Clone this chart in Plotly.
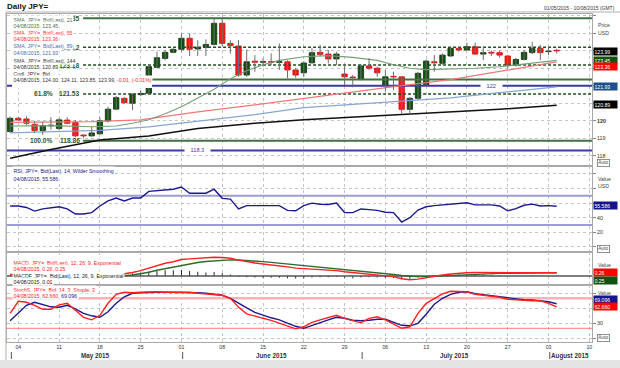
import numpy as np
import pandas as pd
import plotly.graph_objects as go
from plotly.subplots import make_subplots

# ---------------- data ----------------
dates = pd.bdate_range("2015-05-01", "2015-08-04")  # daily trading sessions

opens = [119.38, 120.14, 120.10, 119.79, 119.43, 119.71, 119.55, 120.04, 119.89, 119.18,
         119.13, 119.25, 120.00, 120.66, 121.28, 121.00, 121.49, 121.57, 123.05, 123.56,
         123.91, 124.08, 124.71, 124.10, 124.19, 124.36, 125.57, 124.42, 124.27, 122.61,
         123.40, 123.34, 123.38, 123.33, 123.37, 122.90, 122.74, 123.31, 123.91, 123.81,
         123.53, 122.67, 122.50, 122.38, 123.13, 123.00, 122.04, 122.53, 122.51, 120.65,
         121.28, 122.05, 123.37, 123.28, 123.70, 124.14, 124.04, 124.23, 123.81, 123.91,
         123.89, 123.70, 123.18, 123.50, 123.89, 124.14, 123.95, 124.00]
highs = [120.23, 120.20, 120.25, 119.98, 119.94, 120.20, 120.14, 120.20, 120.04, 119.22,
         119.65, 120.20, 120.80, 121.41, 121.34, 121.55, 121.75, 123.15, 123.94, 124.05,
         124.15, 124.99, 124.99, 124.60, 124.65, 125.85, 125.80, 124.60, 124.61, 124.08,
         123.75, 123.57, 123.85, 124.42, 123.45, 123.00, 123.40, 124.14, 124.33, 124.04,
         123.94, 123.18, 122.61, 123.20, 123.57, 123.09, 122.90, 122.80, 122.55, 121.35,
         122.80, 123.50, 123.75, 123.85, 124.20, 124.20, 124.46, 124.46, 124.23, 124.00,
         124.00, 123.75, 123.60, 124.05, 124.51, 124.33, 124.23, 124.11]
lows = [119.31, 119.98, 119.75, 119.31, 119.18, 119.49, 119.49, 119.80, 119.05, 119.00,
        119.08, 119.20, 119.90, 120.60, 120.95, 120.60, 121.40, 121.50, 123.00, 123.45,
        123.85, 123.95, 123.70, 123.70, 123.70, 124.30, 124.27, 123.83, 122.51, 122.50,
        122.80, 123.09, 123.18, 122.90, 122.42, 122.45, 122.50, 123.25, 123.70, 123.28,
        123.18, 122.04, 121.91, 122.30, 122.90, 122.51, 121.66, 121.75, 120.38, 120.38,
        121.20, 121.95, 122.80, 123.20, 123.65, 123.95, 124.00, 123.75, 123.47, 123.70,
        123.60, 122.99, 123.10, 123.45, 123.80, 123.47, 123.75, 123.85]
closes = [120.14, 120.04, 119.85, 119.43, 119.71, 119.75, 120.05, 119.85, 119.13, 119.13,
          119.30, 120.00, 120.66, 121.32, 121.03, 121.52, 121.56, 123.09, 123.60, 123.91,
          124.08, 124.71, 124.08, 124.19, 124.36, 125.57, 124.42, 124.29, 122.61, 123.37,
          123.34, 123.38, 123.33, 123.38, 122.90, 122.61, 123.30, 123.89, 123.79, 123.53,
          123.81, 122.51, 122.46, 123.13, 123.00, 122.74, 122.51, 122.50, 120.65, 121.28,
          122.71, 123.41, 123.31, 123.75, 124.14, 124.04, 124.23, 123.81, 123.89, 123.86,
          123.75, 123.18, 123.50, 123.91, 124.14, 123.89, 123.98, 123.99]

sma21_dates = ["2015-05-01", "2015-05-08", "2015-05-15", "2015-05-20", "2015-05-22", "2015-05-26",
               "2015-05-28", "2015-06-01", "2015-06-03", "2015-06-05", "2015-06-09", "2015-06-11",
               "2015-06-15", "2015-06-17", "2015-06-22", "2015-06-25", "2015-06-30", "2015-07-03",
               "2015-07-07", "2015-07-09", "2015-07-13", "2015-07-16", "2015-07-21", "2015-07-24",
               "2015-07-29", "2015-07-31", "2015-08-04"]
sma21_vals = [119.70, 119.72, 119.65, 119.70, 119.85, 120.05, 120.40, 120.80, 121.30, 121.80,
              122.40, 122.85, 123.20, 123.45, 123.66, 123.72, 123.62, 123.45, 123.20, 123.00,
              122.92, 122.95, 123.00, 123.08, 123.25, 123.35, 123.45]
sma55_dates = ["2015-05-01", "2015-05-15", "2015-05-25", "2015-06-03", "2015-06-12", "2015-06-22",
               "2015-06-30", "2015-07-08", "2015-07-16", "2015-07-24", "2015-08-04"]
sma55_vals = [119.90, 119.95, 120.05, 120.50, 120.90, 121.28, 121.65, 122.00, 122.35, 122.80, 123.36]
sma89_dates = ["2015-05-01", "2015-05-18", "2015-05-26", "2015-06-12", "2015-06-22", "2015-07-08",
               "2015-07-16", "2015-07-24", "2015-08-04"]
sma89_vals = [119.30, 119.45, 119.65, 120.35, 120.75, 121.10, 121.30, 121.60, 121.93]
sma144_dates = ["2015-05-01", "2015-05-08", "2015-05-18", "2015-05-26", "2015-06-03", "2015-06-12",
                "2015-06-22", "2015-06-30", "2015-07-08", "2015-07-16", "2015-07-24", "2015-08-04"]
sma144_vals = [117.85, 118.35, 118.90, 119.12, 119.55, 119.85, 120.05, 120.20, 120.35, 120.50,
               120.65, 120.89]

rsi = [56, 56, 54, 49, 52, 53, 55, 52, 45, 45, 47, 56, 63, 67, 63, 67, 67, 76, 77, 78,
       79, 82, 73.5, 73.5, 73.5, 79, 66.5, 65.5, 52, 56.5, 56.5, 56.5, 56, 56.5, 50, 49.5,
       56.5, 60, 58.5, 58, 60, 47, 47, 52, 51, 50, 47.5, 47, 34, 40, 50.5, 55, 56.5, 57.5,
       59, 59, 60.5, 57.5, 57.5, 57.5, 56, 49.5, 52.5, 57, 58.5, 56, 56.5, 55.586]

macd = [0.10, 0.11, 0.09, 0.04, 0.02, 0.01, 0.03, 0.01, -0.07, -0.13, -0.16, -0.12, -0.03, 0.09,
        0.15, 0.28, 0.42, 0.62, 0.85, 1.00, 1.12, 1.30, 1.35, 1.40, 1.43, 1.48, 1.46, 1.40,
        1.25, 1.12, 1.02, 0.95, 0.88, 0.82, 0.72, 0.62, 0.58, 0.57, 0.54, 0.48, 0.42, 0.33,
        0.26, 0.22, 0.17, 0.10, 0.02, -0.05, -0.22, -0.30, -0.25, -0.12, 0.00, 0.08, 0.16,
        0.22, 0.26, 0.27, 0.27, 0.27, 0.26, 0.23, 0.22, 0.23, 0.25, 0.26, 0.26, 0.26]
macd_signal = [0.12, 0.12, 0.11, 0.10, 0.09, 0.07, 0.06, 0.05, 0.03, 0.00, -0.03, -0.05, -0.04,
               -0.01, 0.02, 0.08, 0.18, 0.30, 0.45, 0.58, 0.70, 0.84, 0.96, 1.06, 1.14, 1.20,
               1.25, 1.27, 1.26, 1.23, 1.18, 1.13, 1.07, 1.01, 0.95, 0.88, 0.80, 0.74, 0.68,
               0.62, 0.56, 0.50, 0.44, 0.38, 0.32, 0.26, 0.20, 0.12, 0.04, -0.02, -0.05, -0.05,
               -0.02, 0.02, 0.06, 0.10, 0.13, 0.16, 0.18, 0.20, 0.21, 0.21, 0.21, 0.22, 0.23,
               0.24, 0.25, 0.25]
macd_hist = [0.02, 0.03, 0.00, -0.04, -0.05, -0.04, -0.02, -0.02, -0.06, -0.08, -0.07,
             -0.02, 0.05, 0.12, 0.15, 0.20, 0.25, 0.35, 0.42, 0.45, 0.45, 0.48, 0.40, 0.33,
             0.28, 0.32, 0.22, 0.12, -0.08, -0.10, -0.12, -0.13, -0.14, -0.14, -0.18, -0.20,
             -0.17, -0.12, -0.10, -0.10, -0.08, -0.14, -0.18, -0.12, -0.10, -0.12, -0.16,
             -0.15, -0.25, -0.22, -0.12, 0.00, 0.05, 0.08, 0.12, 0.13, 0.14, 0.12, 0.10, 0.08,
             0.06, 0.02, 0.00, 0.01, 0.03, 0.02, 0.02, 0.01]

stoch_k = [50, 74, 72, 66, 58, 58, 67, 70, 56, 42, 37, 46, 70, 88, 92, 91, 92, 93, 93, 92,
           92, 92, 92, 90, 89, 88, 86, 80, 62, 49, 44, 40, 36, 30, 24, 19, 23, 32, 37, 41,
           46, 40, 35, 31, 40, 43, 37, 28, 20, 23, 50, 70, 80, 89, 94, 94, 93, 88, 86, 84,
           82, 78, 77, 75, 75, 75, 70, 62.66]
stoch_d = [35, 50, 66, 72, 68, 63, 62, 66, 59, 50, 45, 42, 53, 70, 83, 90, 91, 92, 92, 92,
           92, 92, 91, 91, 90, 88, 86, 80, 70, 61, 52, 46, 41, 37, 30, 24, 20, 26, 32, 37,
           42, 40, 36, 35, 36, 38, 38, 32, 26, 25, 30, 48, 68, 80, 88, 92, 93, 89, 87, 85,
           83, 80, 78, 77, 76.6, 75, 73, 69.096]

fib_levels = [125.85, 124.2, 123.18, 122.35, 121.53, 118.86]
fib_pcts = ["0.0%", "23.6%", "38.2%", "50.0%", "61.8%", "100.0%"]
fib_dashed = [False, True, True, False, True, False]
fib_anchor = "2015-05-14"
trend_levels = [122.0, 118.3]
trend_label_dates = ["2015-07-23", "2015-06-03"]

week_ticks = ["2015-05-04", "2015-05-11", "2015-05-18", "2015-05-25", "2015-06-01", "2015-06-08",
              "2015-06-15", "2015-06-22", "2015-06-29", "2015-07-06", "2015-07-13", "2015-07-20",
              "2015-07-27", "2015-08-03", "2015-08-10"]
month_starts = ["2015-05-01", "2015-06-01", "2015-07-01", "2015-08-03"]
month_names = ["May 2015", "June 2015", "July 2015", "August 2015"]

assert len(dates) == len(opens) == len(highs) == len(lows) == len(closes) == len(rsi)
assert len(dates) == len(macd) == len(macd_signal) == len(macd_hist) == len(stoch_k) == len(stoch_d)

# ---------------- helpers ----------------
START = dates[0].strftime("%Y-%m-%d")


def pos(d):
    return int(np.busday_count(START, d))


idx = list(range(len(dates)))
XR = [-0.385, 71.33]
FONT = "Liberation Sans, Arial, sans-serif"
W, H = 620, 368
ML, MR, MT, MB = 7, 28, 14, 26
PW, PH = W - ML - MR, H - MT - MB


def pxx(px):
    return (px - ML) / PW


def pxy(py):
    return (H - MB - py) / PH


fig = make_subplots(rows=4, cols=1, shared_xaxes=True, vertical_spacing=0,
                    row_heights=[152, 86, 33, 57])

# ---- main price panel ----
xa = pos(fib_anchor) - 0.06
for lvl, dashed in zip(fib_levels, fib_dashed):
    fig.add_trace(go.Scatter(x=[xa, XR[1] + 1], y=[lvl, lvl], mode="lines",
                             line=dict(color="#1f4f1f" if dashed else "#3f703f",
                                       width=1.5 if dashed else 2,
                                       dash="3px,2px" if dashed else "solid"),
                             hoverinfo="skip"), row=1, col=1)
for lvl in trend_levels:
    fig.add_trace(go.Scatter(x=[XR[0] - 1, XR[1] + 1], y=[lvl, lvl], mode="lines",
                             line=dict(color="#3a3aa0", width=2), hoverinfo="skip"), row=1, col=1)

for dts, vals, col, wd in [(sma144_dates, sma144_vals, "#111111", 1.5),
                           (sma89_dates, sma89_vals, "#86a6d2", 1.2),
                           (sma55_dates, sma55_vals, "#f07878", 1.2),
                           (sma21_dates, sma21_vals, "#78a078", 1.1)]:
    fig.add_trace(go.Scatter(x=[pos(d) for d in dts], y=vals, mode="lines",
                             line=dict(color=col, width=wd), hoverinfo="skip"), row=1, col=1)

wx, wy = [], []
for i, (h, l) in enumerate(zip(highs, lows)):
    wx += [i, i, None]
    wy += [l, h, None]
fig.add_trace(go.Scatter(x=wx, y=wy, mode="lines", line=dict(color="#6e6e6e", width=1),
                         hoverinfo="skip"), row=1, col=1)

base = [min(o, c) for o, c in zip(opens, closes)]
height = [max(abs(c - o), 0.035) for o, c in zip(opens, closes)]
up = [c >= o for o, c in zip(opens, closes)]
fig.add_trace(go.Bar(x=idx, y=height, base=base, width=0.66,
                     marker=dict(color=["#145214" if u else "#ff1a1a" for u in up],
                                 line=dict(color=["#0b2e0b" if u else "#e00000" for u in up],
                                           width=0.8)),
                     hoverinfo="skip"), row=1, col=1)

# ---- RSI panel ----
for lvl in [70, 30]:
    fig.add_trace(go.Scatter(x=[XR[0] - 1, XR[1] + 1], y=[lvl, lvl], mode="lines",
                             line=dict(color="#9c9cd2", width=2), hoverinfo="skip"), row=2, col=1)
fig.add_trace(go.Scatter(x=idx, y=rsi, mode="lines", line=dict(color="#1a1a8c", width=1.4),
                         hoverinfo="skip"), row=2, col=1)

# ---- MACD panel ----
fig.add_trace(go.Scatter(x=[XR[0] - 1, XR[1] + 1], y=[0, 0], mode="lines",
                         line=dict(color="#555555", width=1.5), hoverinfo="skip"), row=3, col=1)
fig.add_trace(go.Bar(x=idx, y=macd_hist, width=0.12, marker=dict(color="#222222", line=dict(width=0)),
                     hoverinfo="skip"), row=3, col=1)
fig.add_trace(go.Scatter(x=idx, y=macd_signal, mode="lines", line=dict(color="#2e6b2e", width=1.4),
                         hoverinfo="skip"), row=3, col=1)
fig.add_trace(go.Scatter(x=idx, y=macd, mode="lines", line=dict(color="#ff2020", width=1.4),
                         hoverinfo="skip"), row=3, col=1)

# ---- Stochastic panel ----
fig.add_trace(go.Scatter(x=[XR[0] - 1, XR[1] + 1], y=[80, 80], mode="lines",
                         line=dict(color="#ffb3b3", width=2.5), hoverinfo="skip"), row=4, col=1)
fig.add_trace(go.Scatter(x=[XR[0] - 1, XR[1] + 1], y=[20, 20], mode="lines",
                         line=dict(color="#ff7a7a", width=1), hoverinfo="skip"), row=4, col=1)
fig.add_trace(go.Scatter(x=idx, y=stoch_d, mode="lines", line=dict(color="#1a1a8c", width=1.4),
                         hoverinfo="skip"), row=4, col=1)
fig.add_trace(go.Scatter(x=idx, y=stoch_k, mode="lines", line=dict(color="#ff2020", width=1.4),
                         hoverinfo="skip"), row=4, col=1)

# ---------------- axes ----------------
tickpos = [pos(d) for d in week_ticks]
ticktxt = [pd.Timestamp(d).strftime("%d") for d in week_ticks]
for r in range(1, 5):
    fig.update_xaxes(row=r, col=1, range=XR, tickvals=tickpos, ticktext=ticktxt,
                     showgrid=True, gridcolor="#c4c4c4", griddash="dot", gridwidth=1,
                     showline=True, linecolor="#a8a8a8", linewidth=1, mirror=True,
                     zeroline=False, ticks="", fixedrange=True,
                     tickfont=dict(family=FONT, size=5.2, color="#333333"))

axis_common = dict(side="right", showgrid=True, gridcolor="#c4c4c4", griddash="dot", gridwidth=1,
                   showline=True, linecolor="#a8a8a8", linewidth=1, mirror=True, zeroline=False,
                   ticks="outside", ticklen=3, tickcolor="#888888", fixedrange=True,
                   tickfont=dict(family=FONT, size=5.3, color="#333333"))
fig.update_yaxes(row=1, col=1, range=[117.41, 126.10], tickvals=list(range(118, 127)),
                 ticktext=["118", "119", "<b>120</b>", "", "", "", "", "", ""], **axis_common)
fig.update_yaxes(row=2, col=1, range=[-7, 110.8], tickvals=[0, 20, 40, 60, 80, 100],
                 ticktext=["", "20", "40", "", "", ""], **axis_common)
fig.update_yaxes(row=3, col=1, range=[-0.709, 1.89], tickvals=[], **axis_common)
fig.update_yaxes(row=4, col=1, range=[-7.4, 106.6], tickvals=[0, 30, 60, 90],
                 ticktext=["", "30", "", ""], **axis_common)

# ---------------- annotations ----------------
ann = []


def text(px, py, s, size=5.2, color="#333333", xanchor="left", bold=False, **kw):
    ann.append(dict(xref="paper", yref="paper", x=pxx(px), y=pxy(py), text=f"<b>{s}</b>" if bold else s,
                    showarrow=False, xanchor=xanchor, yanchor="middle",
                    font=dict(family=FONT, size=size, color=color), **kw))


# fib labels (drawn first so the legend rows cover part of the upper ones)
xlab = xa - 0.12
legend_floor = 122.2  # percentages above this level sit fully under the legend block
for lvl, pct in zip(fib_levels, fib_pcts):
    ann.append(dict(xref="x", yref="y", x=xlab, y=lvl, text=f"<b>{lvl:g}</b>", showarrow=False,
                    xanchor="right", yanchor="middle",
                    font=dict(family=FONT, size=6.6, color="#2d5a2d")))
    if lvl < legend_floor:
        ann.append(dict(xref="x", yref="y", x=xlab - 3.3, y=lvl, text=f"<b>{pct}</b>", showarrow=False,
                        xanchor="right", yanchor="middle",
                        font=dict(family=FONT, size=6.6, color="#2d5a2d")))
for lvl, d in zip(trend_levels, trend_label_dates):
    ann.append(dict(xref="x", yref="y", x=pos(d), y=lvl, text=f"\u2002\u2002{lvl:g}\u2002\u2002",
                    showarrow=False, xanchor="center", yanchor="middle", bgcolor="#ffffff",
                    borderpad=0, font=dict(family=FONT, size=5.6, color="#3a3aa0")))

# white block behind the last legend row
shapes = [dict(type="rect", xref="paper", yref="paper", x0=pxx(12), x1=pxx(152), y0=pxy(88),
               y1=pxy(76.5), fillcolor="#ffffff", line=dict(width=0), layer="above")]

last = dates[-1].strftime("%d/%m/%Y")
chg = closes[-1] - opens[-1]
legend_rows = [
    (19.0, "SMA, JPY=, Bid(Last), 21", "#4f6f4f"),
    (25.7, f"{last}, {sma21_vals[-1]:.2f}", "#4f6f4f"),
    (32.3, "SMA, JPY=, Bid(Last), 55", "#ff3030"),
    (39.0, f"{last}, {sma55_vals[-1]:.2f}", "#ff3030"),
    (45.7, "SMA, JPY=, Bid(Last), 89", "#4a72b0"),
    (52.7, f"{last}, {sma89_vals[-1]:.2f}", "#4a72b0"),
    (60.0, "SMA, JPY=, Bid(Last), 144", "#333333"),
    (66.7, f"{last}, {sma144_vals[-1]:.2f}", "#333333"),
    (73.3, "Cndl, JPY=, Bid", "#333333"),
    (80.0, f"{last}, {opens[-1]:.2f}, {highs[-1]:.2f}, {lows[-1]:.2f}, {closes[-1]:.2f}, "
           f"<span style='color:#ff2020'>{chg:.2f}, ({chg / opens[-1] * 100:.2f}%)</span>", "#333333"),
    (170.7, "RSI, JPY=, Bid(Last), 14, Wilder Smoothing", "#1a1a8c"),
    (178.3, f"{last}, {rsi[-1]:.3f}", "#1a1a8c"),
    (262.5, "MACD, JPY=, Bid(Last), 12, 26, 9, Exponential", "#ff2020"),
    (268.5, f"{last}, {macd[-1]:.2f}, {macd_signal[-1]:.2f}", "#ff2020"),
    (275.0, "MACDF, JPY=, Bid(Last), 12, 26, 9, Exponential", "#222222"),
    (281.5, f"{last}, {macd_hist[-1]:.2f}", "#222222"),
    (289.3, "StochS, JPY=, Bid, 14, 3, Simple, 3", "#ff2020"),
    (295.3, f"{last}, {stoch_k[-1]:.3f}, <span style='color:#1a1a8c'>{stoch_d[-1]:.3f}</span>", "#ff2020"),
]
for py, s, c in legend_rows:
    text(12, py, s, size=5.2, color=c, bgcolor="#ffffff", borderpad=0.5)

# right-hand value boxes
boxes = [
    (51.2, f"{closes[-1]:.2f}", "#000000"),
    (60.0, f"{sma21_vals[-1]:.2f}", "#145214"),
    (66.7, f"{sma55_vals[-1]:.2f}", "#ff0000"),
    (86.3, f"{sma89_vals[-1]:.2f}", "#1f4e8c"),
    (104.5, f"{sma144_vals[-1]:.2f}", "#000000"),
    (205.0, f"{rsi[-1]:.3f}", "#14148c"),
    (272.7, f"{macd[-1]:.2f}", "#ff0000"),
    (280.0, f"{macd_signal[-1]:.2f}", "#145214"),
    (299.3, f"{stoch_d[-1]:.3f}", "#14148c"),
    (306.7, f"{stoch_k[-1]:.3f}", "#ff0000"),
]
for py, s, bg in boxes:
    ann.append(dict(xref="paper", yref="paper", x=pxx(592.5), y=pxy(py), text=s, showarrow=False,
                    xanchor="left", yanchor="middle", align="left", width=22, height=6.6,
                    bgcolor=bg, borderpad=0.4,
                    font=dict(family=FONT, size=5.2, color="#ffffff")))

for py, s in [(25.0, "Price"), (32.5, "USD"), (179.0, "Value"), (186.0, "USD"),
              (265.0, "Value"), (293.0, "Value")]:
    text(596, py, s, size=5.2, color="#444444")
for py in [163.0, 249.3, 338.3]:
    text(597, py, "Auto", size=4.8, color="#444444", bordercolor="#777777", borderwidth=0.8,
         borderpad=0.5, bgcolor="#ffffff")

# title and date range
text(5, 6.3, "Daily JPY=", size=8, color="#111111", bold=True)
text(617, 7.6, f"{dates[0].strftime('%d/%m/%Y')} - 10/08/2015 (GMT)", size=5.0, color="#333333",
     xanchor="right")

# month labels and separators
mpos = [pos(d) for d in month_starts] + [XR[1]]
for k, name in enumerate(month_names):
    ann.append(dict(xref="x4", yref="paper", x=(mpos[k] + mpos[k + 1]) / 2, y=pxy(355.5),
                    text=f"<b>{name}</b>", showarrow=False, xanchor="center", yanchor="middle",
                    font=dict(family=FONT, size=6.3, color="#333333")))
    shapes.append(dict(type="line", xref="x4", yref="paper", x0=mpos[k] + 0.15, x1=mpos[k] + 0.15,
                       y0=pxy(352), y1=pxy(359), line=dict(color="#555555", width=1)))

# outer frame
shapes += [
    dict(type="line", xref="paper", yref="paper", x0=pxx(6), x1=pxx(620), y0=pxy(12), y1=pxy(12),
         line=dict(color="#b0b0b0", width=1)),
    dict(type="line", xref="paper", yref="paper", x0=pxx(6), x1=pxx(6), y0=pxy(12), y1=pxy(360),
         line=dict(color="#b0b0b0", width=1)),
    dict(type="rect", xref="paper", yref="paper", x0=pxx(0), x1=pxx(620), y0=pxy(360), y1=pxy(368),
         fillcolor="#e4e4e4", line=dict(width=0)),
]

fig.update_layout(width=W, height=H, margin=dict(l=ML, r=MR, t=MT, b=MB),
                  paper_bgcolor="#ffffff", plot_bgcolor="#ffffff", showlegend=False,
                  annotations=ann, shapes=shapes, hovermode=False,
                  font=dict(family=FONT, size=6, color="#333333"))

fig.write_html("out.html", config={"displayModeBar": False, "staticPlot": True},
               post_script="document.body.style.margin='0';"
                           "document.body.style.overflow='hidden';")
